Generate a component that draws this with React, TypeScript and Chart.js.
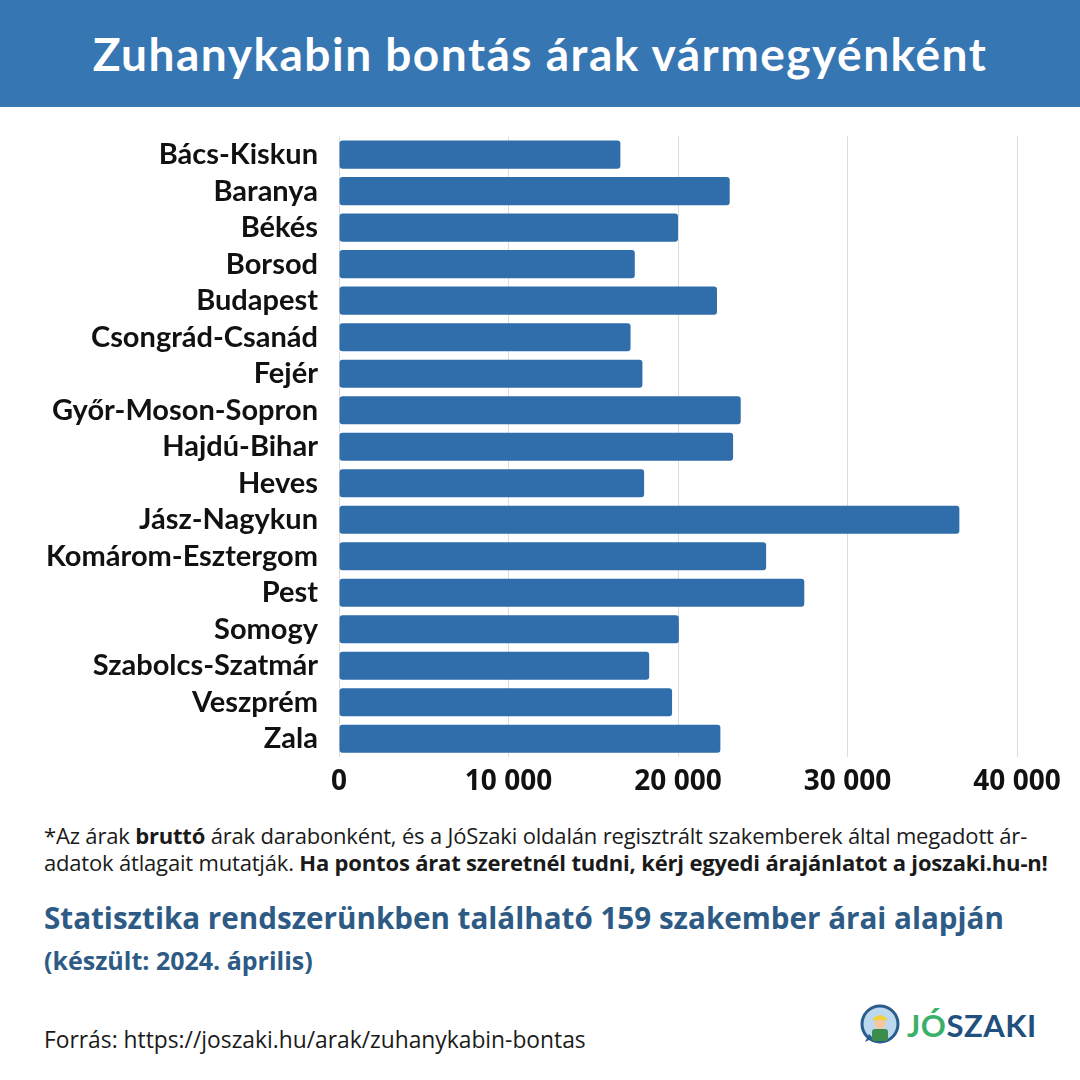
import React, { useEffect, useRef } from "react";
import { Chart, registerables } from "chart.js";

Chart.register(...registerables);

const categories = [
  "Bács-Kiskun",
  "Baranya",
  "Békés",
  "Borsod",
  "Budapest",
  "Csongrád-Csanád",
  "Fejér",
  "Győr-Moson-Sopron",
  "Hajdú-Bihar",
  "Heves",
  "Jász-Nagykun",
  "Komárom-Esztergom",
  "Pest",
  "Somogy",
  "Szabolcs-Szatmár",
  "Veszprém",
  "Zala",
];

const prices = [
  16600, 23050, 20000, 17450, 22300, 17200, 17900, 23700, 23250, 18000, 36600,
  25200, 27450, 20050, 18300, 19650, 22500,
];

const xTicks = [0, 10000, 20000, 30000, 40000];

const fmt = (v: number) => String(v).replace(/\B(?=(\d{3})+(?!\d))/g, " ");

function BarChart() {
  const ref = useRef<HTMLCanvasElement | null>(null);
  useEffect(() => {
    if (!ref.current) return;
    const chart = new Chart(ref.current, {
      type: "bar",
      data: {
        labels: categories,
        datasets: [
          {
            data: prices,
            backgroundColor: "#2f6eaa",
            borderRadius: 3,
            borderSkipped: false,
            categoryPercentage: 0.77,
            barPercentage: 1,
          },
        ],
      },
      options: {
        indexAxis: "y",
        animation: false,
        responsive: false,
        maintainAspectRatio: false,
        layout: { padding: { top: 0, right: 63, left: 0, bottom: 0 } },
        plugins: { legend: { display: false }, tooltip: { enabled: false } },
        scales: {
          x: {
            min: 0,
            max: 40000,
            afterBuildTicks: (s: any) => {
              s.ticks = xTicks.map((v) => ({ value: v }));
            },
            afterFit: (s: any) => {
              s.height = 53;
            },
            grid: { color: "#dcdcdc", drawTicks: false, lineWidth: 1 },
            border: { display: false },
            ticks: {
              padding: 8,
              color: "#111",
              font: { family: "Open Sans", weight: "bold", size: 28 },
              callback: (v: any) => fmt(Number(v)),
            },
          },
          y: {
            afterFit: (s: any) => {
              s.width = 339;
            },
            grid: { display: false, drawTicks: false },
            border: { display: false },
            ticks: {
              padding: 21,
              color: "#111",
              autoSkip: false,
              font: { family: "Lato", weight: "bold", size: 29 },
            },
          },
        },
      },
    });
    return () => chart.destroy();
  }, []);
  return <canvas ref={ref} width={1080} height={712} style={{ position: "absolute", left: 0, top: 98, width: 1080, height: 712 }} />;
}

function Logo() {
  return (
    <div style={{ position: "absolute", left: 859, top: 1004, display: "flex", alignItems: "center" }}>
      <svg width={42} height={42} viewBox="0 0 42 42">
        <circle cx={21} cy={20} r={18} fill="#bcd9ef" stroke="#2a5d8c" strokeWidth={3} />
        <path d="M6 38 L10 30 L14 34 Z" fill="#2a5d8c" />
        <rect x={13} y={25} width={16} height={12} rx={3} fill="#3c8c4c" />
        <circle cx={21} cy={19} r={6} fill="#f3c9a0" />
        <path d="M13 16 Q21 6 29 16 Z" fill="#f2d23a" />
      </svg>
      <span style={{ fontFamily: "Lato", fontWeight: 700, fontSize: 31, marginLeft: 6, letterSpacing: 0.5 }}>
        <span style={{ color: "#3bb06a" }}>JÓ</span>
        <span style={{ color: "#22507e" }}>SZAKI</span>
      </span>
    </div>
  );
}

export default function App() {
  useEffect(() => {
    document.body.style.margin = "0";
  }, []);
  return (
    <div style={{ position: "absolute", left: 0, top: 0, width: 1080, height: 1080, background: "#fff", overflow: "hidden" }}>
      <div
        style={{
          position: "absolute",
          left: 0,
          top: 0,
          width: 1080,
          height: 107,
          background: "#3676b3",
          display: "flex",
          alignItems: "center",
          justifyContent: "center",
          color: "#fff",
          fontFamily: "Lato",
          fontWeight: 700,
          fontSize: 46,
          letterSpacing: 1.5,
        }}
      >
        Zuhanykabin bontás árak vármegyénként
      </div>
      <BarChart />
      <div
        style={{
          position: "absolute",
          left: 44,
          top: 822,
          width: 1030,
          fontFamily: "Open Sans",
          fontSize: 22,
          lineHeight: "27px",
          color: "#1a1a1a",
          letterSpacing: -0.18,
          whiteSpace: "nowrap",
        }}
      >
        *Az árak <b>bruttó</b> árak darabonként, és a JóSzaki oldalán regisztrált szakemberek által megadott ár-
        <br />
        adatok átlagait mutatják. <b>Ha pontos árat szeretnél tudni, kérj egyedi árajánlatot a joszaki.hu-n!</b>
      </div>
      <div
        style={{
          position: "absolute",
          left: 44,
          top: 898,
          lineHeight: "40px",
          fontFamily: "Open Sans",
          fontWeight: 700,
          fontSize: 29.6,
          color: "#2d5b85",
          whiteSpace: "nowrap",
        }}
      >
        Statisztika rendszerünkben található 159 szakember árai alapján
      </div>
      <div
        style={{
          position: "absolute",
          left: 44,
          top: 943,
          lineHeight: "34px",
          fontFamily: "Open Sans",
          fontWeight: 700,
          fontSize: 25,
          color: "#2d5b85",
          whiteSpace: "nowrap",
        }}
      >
        (készült: 2024. április)
      </div>
      <div
        style={{
          position: "absolute",
          left: 44,
          top: 1024,
          lineHeight: "32px",
          fontFamily: "Open Sans",
          fontSize: 22.8,
          color: "#1a1a1a",
          whiteSpace: "nowrap",
        }}
      >
        Forrás: https://joszaki.hu/arak/zuhanykabin-bontas
      </div>
      <Logo />
    </div>
  );
}
